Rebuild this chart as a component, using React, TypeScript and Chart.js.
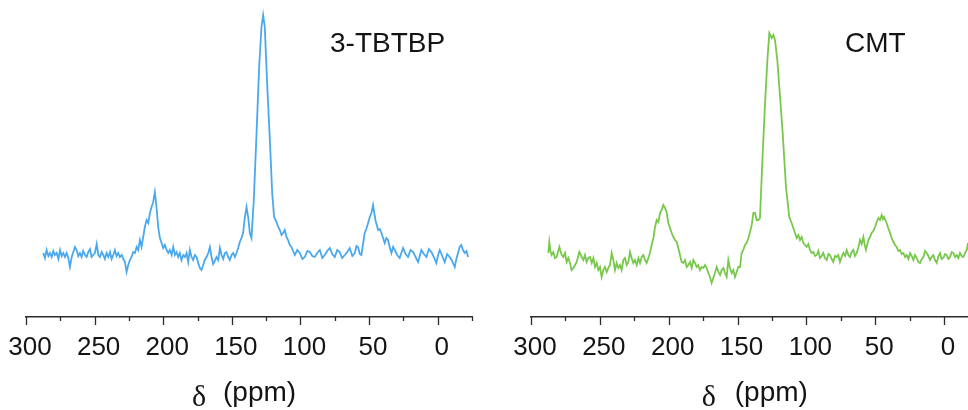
import React, { useEffect, useRef } from 'react';
import { Chart, registerables } from 'chart.js';

Chart.register(...registerables);

// ---- data -------------------------------------------------------------
const TICK_VALUES = [300, 250, 200, 150, 100, 50, 0];
const TICK_LABELS = ['300', '250', '200', '150', '100', '50', '0'];
const AXIS_SYMBOL = 'δ';
const AXIS_UNIT = '(ppm)';
const TBTBP_LABEL = '3-TBTBP';
const CMT_LABEL = 'CMT';

// [chemical shift (ppm), intensity (arb.)]
const TBTBP: [number, number][] = [
  [287.4, 64], [286.2, 59], [285.0, 67], [283.7, 61], [282.5, 64], [281.3, 60], [280.1, 66], [278.9, 62], [277.7, 64], [276.4, 58],
  [275.2, 67], [274.0, 61], [272.8, 64], [271.6, 60], [270.4, 64], [269.2, 59], [268.0, 50], [266.7, 60], [265.5, 65], [264.3, 70],
  [263.1, 67], [261.9, 61], [260.7, 64], [259.5, 60], [258.3, 66], [257.0, 62], [255.8, 60], [254.6, 65], [253.4, 68], [252.2, 60],
  [251.0, 62], [249.8, 64], [248.5, 73], [247.3, 62], [246.1, 60], [244.9, 65], [243.7, 62], [242.5, 58], [241.3, 64], [240.0, 60],
  [238.8, 65], [237.6, 58], [236.4, 62], [235.2, 67], [234.0, 61], [232.8, 64], [231.6, 60], [230.3, 62], [229.1, 58], [227.9, 55],
  [226.7, 45], [225.5, 52], [224.3, 57], [223.1, 60], [221.9, 65], [220.6, 64], [219.4, 70], [218.2, 67], [217.0, 77], [215.8, 70],
  [214.6, 80], [213.4, 90], [212.1, 97], [210.9, 94], [209.7, 104], [208.5, 110], [207.3, 115], [206.1, 125], [204.9, 110], [203.6, 89],
  [202.4, 79], [201.2, 74], [200.0, 69], [198.8, 72], [197.6, 67], [196.4, 64], [195.2, 67], [193.9, 62], [192.7, 70], [191.5, 62],
  [190.3, 65], [189.1, 60], [187.9, 64], [186.7, 57], [185.4, 62], [184.2, 60], [183.0, 64], [181.8, 55], [180.6, 67], [179.4, 60],
  [178.2, 57], [176.9, 62], [175.7, 60], [174.5, 54], [173.3, 49], [172.1, 47], [170.9, 52], [169.7, 57], [168.4, 60], [167.2, 64],
  [166.0, 70], [164.8, 60], [163.6, 53], [162.4, 56], [161.2, 60], [159.9, 57], [158.7, 69], [157.5, 62], [156.3, 58], [155.1, 64],
  [153.9, 65], [152.7, 60], [151.5, 57], [150.2, 62], [149.0, 64], [147.8, 60], [146.6, 64], [145.4, 69], [144.2, 75], [143.0, 79],
  [141.8, 84], [140.5, 100], [139.3, 110], [138.1, 100], [136.9, 84], [135.7, 79], [134.0, 117], [132.0, 184], [130.1, 250], [128.4, 290],
  [127.2, 302], [126.0, 290], [124.3, 234], [122.3, 177], [120.6, 124], [119.2, 100], [117.5, 95], [116.2, 90], [115.0, 87], [113.8, 82],
  [112.6, 84], [111.4, 87], [110.2, 80], [109.0, 77], [107.8, 72], [106.6, 70], [105.4, 66], [104.1, 62], [102.3, 67], [100.5, 64],
  [98.6, 58], [96.8, 60], [95.0, 66], [93.2, 65], [91.4, 61], [89.6, 60], [87.8, 64], [85.9, 67], [84.1, 59], [82.3, 62],
  [80.5, 66], [78.6, 69], [76.8, 63], [75.0, 60], [73.2, 67], [71.4, 65], [69.6, 59], [67.7, 62], [65.9, 65], [64.1, 69],
  [62.2, 61], [60.4, 64], [59.2, 71], [58.0, 70], [56.8, 63], [55.6, 62], [54.4, 73], [53.2, 84], [52.0, 88], [50.7, 94],
  [49.5, 100], [48.3, 104], [47.1, 112], [45.4, 97], [44.4, 92], [43.4, 87], [42.2, 88], [41.0, 84], [39.8, 79], [38.6, 74],
  [37.4, 79], [36.2, 77], [35.0, 70], [33.7, 64], [32.5, 70], [31.3, 67], [29.5, 62], [27.7, 59], [26.5, 64], [25.2, 69],
  [23.4, 63], [21.6, 60], [19.8, 67], [17.9, 65], [16.1, 60], [14.3, 55], [13.1, 61], [11.9, 67], [10.1, 63], [8.2, 60],
  [6.4, 68], [4.6, 65], [2.8, 60], [1.0, 54], [-0.3, 62], [-1.5, 67], [-3.3, 61], [-5.1, 55], [-6.9, 63], [-8.7, 60],
  [-10.5, 56], [-12.4, 50], [-13.6, 58], [-14.8, 64], [-16.0, 70], [-17.2, 72], [-18.4, 67], [-19.7, 64], [-21.0, 66], [-22.1, 60],
];

const CMT: [number, number][] = [
  [287.4, 64], [286.7, 75], [285.9, 66], [285.0, 62], [283.8, 65], [282.6, 59], [281.4, 60], [279.4, 70], [278.6, 66], [277.7, 62],
  [276.5, 60], [275.3, 64], [274.1, 55], [272.9, 59], [271.7, 54], [270.5, 47], [269.2, 49], [268.0, 52], [266.8, 55], [264.9, 65],
  [263.2, 60], [262.0, 57], [260.8, 62], [259.6, 55], [258.4, 59], [257.1, 60], [255.9, 54], [254.7, 59], [253.5, 50], [252.3, 54],
  [251.1, 47], [249.9, 50], [248.7, 40], [247.5, 47], [246.3, 50], [245.0, 45], [243.8, 49], [242.6, 52], [241.4, 64], [240.2, 57],
  [239.0, 47], [237.8, 54], [236.6, 49], [235.4, 52], [234.2, 47], [232.9, 57], [231.7, 59], [230.5, 52], [229.3, 55], [228.1, 65],
  [226.9, 59], [225.7, 54], [224.5, 57], [223.2, 52], [222.0, 59], [220.8, 54], [219.6, 60], [218.4, 62], [217.2, 57], [216.0, 54],
  [214.8, 59], [213.6, 64], [212.4, 72], [211.1, 79], [209.9, 90], [208.7, 97], [207.5, 95], [206.3, 104], [205.1, 107], [203.9, 112],
  [202.7, 109], [201.5, 105], [200.3, 94], [199.0, 89], [197.8, 84], [196.6, 80], [195.4, 77], [194.2, 75], [193.0, 69], [191.8, 62],
  [190.6, 55], [189.4, 54], [188.1, 57], [186.9, 50], [185.7, 52], [184.5, 55], [183.3, 49], [182.1, 57], [180.9, 54], [179.7, 50],
  [178.5, 52], [177.3, 47], [176.0, 50], [174.8, 49], [173.6, 52], [172.4, 49], [171.2, 44], [170.0, 40], [168.8, 34], [167.6, 39],
  [166.4, 44], [165.1, 50], [163.9, 45], [162.7, 42], [161.5, 47], [160.3, 49], [159.1, 44], [157.9, 40], [156.7, 57], [155.5, 49],
  [154.2, 44], [153.0, 47], [151.8, 40], [150.6, 45], [149.4, 50], [148.2, 50], [147.0, 64], [145.8, 67], [144.6, 72], [143.4, 74],
  [142.1, 79], [140.9, 85], [139.7, 92], [138.5, 104], [137.3, 104], [136.1, 97], [134.9, 97], [133.7, 99], [131.7, 164], [130.0, 214],
  [128.3, 257], [126.9, 284], [125.2, 279], [124.0, 282], [122.8, 277], [121.1, 257], [119.1, 220], [117.2, 184], [114.8, 130], [112.4, 100],
  [110.7, 94], [109.0, 87], [107.0, 79], [105.8, 82], [104.6, 77], [103.4, 80], [102.2, 74], [101.0, 72], [99.8, 70], [98.6, 73],
  [97.4, 67], [96.2, 64], [94.9, 65], [93.7, 61], [92.5, 62], [91.3, 66], [90.1, 59], [88.9, 61], [87.7, 64], [86.5, 59],
  [85.2, 57], [84.0, 63], [82.8, 62], [81.6, 58], [80.4, 55], [79.2, 61], [78.0, 60], [76.8, 62], [75.6, 55], [74.4, 60],
  [73.1, 64], [71.9, 61], [70.7, 67], [69.5, 62], [68.3, 60], [67.1, 65], [65.9, 67], [64.7, 61], [63.4, 64], [62.2, 70],
  [61.0, 77], [59.8, 73], [58.6, 80], [57.6, 72], [56.7, 67], [55.0, 77], [53.8, 80], [52.6, 84], [51.4, 86], [50.1, 90],
  [48.9, 95], [47.7, 99], [46.5, 97], [45.3, 102], [44.4, 98], [43.6, 100], [42.6, 97], [41.7, 94], [40.5, 89], [39.2, 84],
  [38.0, 79], [36.8, 75], [35.6, 72], [34.4, 70], [33.2, 66], [32.0, 67], [30.8, 63], [29.5, 64], [28.3, 60], [27.1, 62],
  [25.9, 58], [24.7, 64], [23.5, 61], [22.3, 57], [21.1, 62], [19.9, 59], [18.7, 55], [17.4, 54], [16.2, 58], [15.0, 60],
  [13.8, 66], [12.6, 64], [11.4, 61], [10.2, 57], [9.0, 60], [7.8, 62], [6.6, 57], [5.3, 54], [4.1, 61], [2.9, 64],
  [1.7, 58], [0.5, 59], [-0.7, 63], [-1.9, 62], [-3.1, 58], [-4.3, 60], [-5.6, 65], [-6.8, 64], [-8.0, 60], [-9.2, 62],
  [-10.4, 59], [-11.6, 64], [-12.8, 61], [-14.0, 60], [-15.3, 64], [-16.5, 67], [-17.4, 74],
];

// ---- styling ----------------------------------------------------------
const SANS = "'Liberation Sans', Arial, Helvetica, sans-serif";
const SERIF = "'Liberation Serif', 'Times New Roman', 'DejaVu Serif', serif";
const AXIS_COLOR = '#2b2b2b';
const TEXT_COLOR = '#141414';

const decorPlugin = {
  id: 'nmrDecor',
  afterDraw(chart: any, _args: any, opts: any) {
    const ctx = chart.ctx;
    const xs = chart.scales.x;
    const area = chart.chartArea;
    ctx.save();
    // major / minor tick marks under the axis line
    ctx.strokeStyle = AXIS_COLOR;
    ctx.lineWidth = 1.3;
    for (let v = -25; v <= 300; v += 25) {
      if (v < xs.min - 0.01 || v > xs.max + 0.01) continue;
      const px = Math.round(xs.getPixelForValue(v)) + 0.5;
      const len = v % 50 === 0 ? 8 : 4;
      ctx.beginPath();
      ctx.moveTo(px, area.bottom);
      ctx.lineTo(px, area.bottom + len);
      ctx.stroke();
    }
    // axis title: δ (ppm)
    const center = (xs.getPixelForValue(300) + xs.getPixelForValue(-25)) / 2;
    ctx.fillStyle = TEXT_COLOR;
    ctx.textBaseline = 'alphabetic';
    ctx.textAlign = 'center';
    ctx.font = `30px ${SERIF}`;
    ctx.fillText(opts.symbol, center + opts.symbolOffset, 406);
    ctx.textAlign = 'left';
    ctx.font = `28px ${SANS}`;
    ctx.fillText(opts.unit, center + opts.unitOffset, 401);
    // panel label
    ctx.font = `28px ${SANS}`;
    ctx.textAlign = 'left';
    ctx.fillText(opts.label, opts.labelX, 52);
    ctx.restore();
  },
};

interface PanelProps {
  data: [number, number][];
  color: string;
  label: string;
  labelX: number;
  xMin: number;
  padLeft: number;
  padRight: number;
  symbolOffset: number;
  unitOffset: number;
}

function Panel(p: PanelProps) {
  const ref = useRef<HTMLCanvasElement | null>(null);
  useEffect(() => {
    if (!ref.current) return;
    const chart = new Chart(ref.current, {
      type: 'line',
      data: {
        datasets: [
          {
            data: p.data.map(([x, y]) => ({ x, y })),
            borderColor: p.color,
            borderWidth: 1.8,
            pointRadius: 0,
            tension: 0,
            fill: false,
          },
        ],
      },
      options: {
        responsive: false,
        animation: false,
        devicePixelRatio: 1,
        layout: { padding: { left: p.padLeft, right: p.padRight, top: 0, bottom: 0 } },
        plugins: {
          legend: { display: false },
          tooltip: { enabled: false },
          title: { display: false },
          nmrDecor: {
            symbol: AXIS_SYMBOL,
            unit: AXIS_UNIT,
            label: p.label,
            labelX: p.labelX,
            symbolOffset: p.symbolOffset,
            unitOffset: p.unitOffset,
          },
        } as any,
        scales: {
          x: {
            type: 'linear',
            reverse: true,
            min: p.xMin,
            max: 300,
            afterBuildTicks: (s: any) => {
              s.ticks = TICK_VALUES.map((v) => ({ value: v }));
            },
            afterFit: (s: any) => {
              s.height = 93;
              s.paddingLeft = 0;
              s.paddingRight = 0;
              s.paddingTop = 0;
              s.paddingBottom = 0;
            },
            grid: { display: false, drawTicks: false, drawOnChartArea: false },
            border: { display: true, color: AXIS_COLOR, width: 1.5 },
            ticks: {
              autoSkip: false,
              maxRotation: 0,
              padding: 15,
              labelOffset: 4,
              color: TEXT_COLOR,
              font: { size: 26, family: SANS },
              callback: (v: any) => {
                const i = TICK_VALUES.indexOf(Number(v));
                return i >= 0 ? TICK_LABELS[i] : '';
              },
            },
          },
          y: {
            display: false,
            min: 0,
            max: 317,
          },
        },
      },
      plugins: [decorPlugin],
    } as any);
    return () => chart.destroy();
  }, []);
  return <canvas ref={ref} width={484} height={410} style={{ display: 'block' }} />;
}

export default function App() {
  return (
    <div
      style={{
        position: 'absolute',
        left: 0,
        top: 0,
        width: 968,
        height: 410,
        display: 'flex',
        background: '#ffffff',
        overflow: 'hidden',
      }}
    >
      <Panel
        data={TBTBP}
        color="#4aa8ef"
        label={TBTBP_LABEL}
        labelX={330}
        xMin={-25}
        padLeft={26}
        padRight={12}
        symbolOffset={-50}
        unitOffset={-26}
      />
      <Panel
        data={CMT}
        color="#78c84c"
        label={CMT_LABEL}
        labelX={361}
        xMin={-17.4}
        padLeft={47}
        padRight={0}
        symbolOffset={-46}
        unitOffset={-20}
      />
    </div>
  );
}
